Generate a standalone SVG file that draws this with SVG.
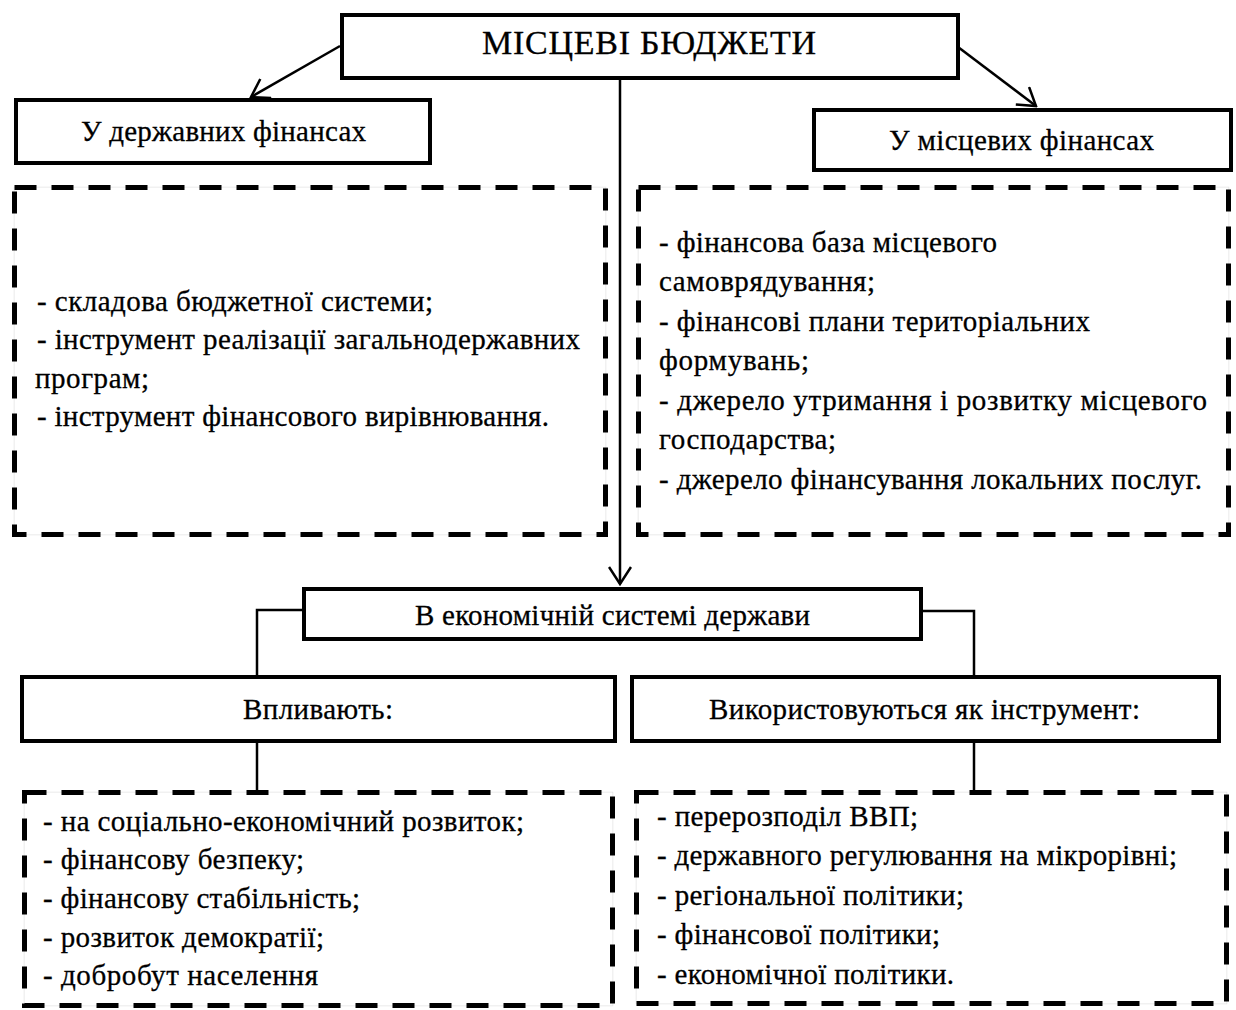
<svg xmlns="http://www.w3.org/2000/svg" width="1236" height="1010" viewBox="0 0 1236 1010">
<style>
.box{fill:#fff;stroke:#000;stroke-width:4}
.dash{fill:#fff;stroke:#000;stroke-width:5;stroke-dasharray:22 15}
.ghost{fill:none;stroke:#e2e2e2;stroke-width:1.5}
.conn{fill:none;stroke:#000;stroke-width:2.5}
text{font-family:"Liberation Serif","Times New Roman",serif;font-size:29px;fill:#000;stroke:#000;stroke-width:0.3}
.title{font-size:34px}
</style>
<defs>
<marker id="arr" markerUnits="userSpaceOnUse" viewBox="0 0 20 24" refX="18" refY="12" markerWidth="20" markerHeight="24" orient="auto">
<path d="M1,1 L18,12 L1,23" fill="none" stroke="#000" stroke-width="2.5"/>
</marker>
</defs>
<rect width="1236" height="1010" fill="#fff"/>

<g id="connectors">
<line class="conn" x1="340" y1="46" x2="251" y2="97" marker-end="url(#arr)"/>
<line class="conn" x1="958" y1="47" x2="1036" y2="106" marker-end="url(#arr)"/>
<line class="conn" x1="620" y1="80" x2="620" y2="584" marker-end="url(#arr)"/>
<polyline class="conn" points="304,610 257,610 257,677"/>
<polyline class="conn" points="921,611 974,611 974,677"/>
<line class="conn" x1="257" y1="741" x2="257" y2="792"/>
<line class="conn" x1="974" y1="741" x2="974" y2="792"/>
</g>

<g id="node-main">
<rect class="box" x="342" y="15" width="616" height="63"/>
<text class="title" x="482" y="54" textLength="334">МІСЦЕВІ БЮДЖЕТИ</text>
</g>

<g id="node-state">
<rect class="box" x="16" y="100" width="414" height="63"/>
<text x="81" y="141" textLength="285">У державних фінансах</text>
</g>

<g id="node-local">
<rect class="box" x="814" y="110" width="417" height="60"/>
<text x="889" y="150" textLength="265">У місцевих фінансах</text>
</g>

<g id="node-state-list">
<rect class="ghost" x="14.5" y="187.5" width="591" height="347"/>
<rect class="dash" x="14.5" y="187.5" width="591" height="347"/>
<text x="37" y="311" textLength="396">- складова бюджетної системи;</text>
<text x="37" y="349" textLength="543">- інструмент реалізації загальнодержавних</text>
<text x="35" y="388" textLength="114">програм;</text>
<text x="37" y="426" textLength="512">- інструмент фінансового вирівнювання.</text>
</g>

<g id="node-local-list">
<rect class="ghost" x="638.5" y="187.5" width="590" height="347"/>
<rect class="dash" x="638.5" y="187.5" width="590" height="347"/>
<text x="659" y="252" textLength="338">- фінансова база місцевого</text>
<text x="659" y="291" textLength="216">самоврядування;</text>
<text x="659" y="331" textLength="431">- фінансові плани територіальних</text>
<text x="659" y="370" textLength="150">формувань;</text>
<text x="659" y="410" textLength="548">- джерело утримання і розвитку місцевого</text>
<text x="659" y="449" textLength="177">господарства;</text>
<text x="659" y="489" textLength="543">- джерело фінансування локальних послуг.</text>
</g>

<g id="node-economy">
<rect class="box" x="304" y="589" width="617" height="50"/>
<text x="415" y="625" textLength="395">В економічній системі держави</text>
</g>

<g id="node-influence">
<rect class="box" x="22" y="677" width="593" height="64"/>
<text x="243" y="719" textLength="150">Впливають:</text>
</g>

<g id="node-instrument">
<rect class="box" x="632" y="677" width="587" height="64"/>
<text x="709" y="719" textLength="431">Використовуються як інструмент:</text>
</g>

<g id="node-influence-list">
<rect class="ghost" x="24.5" y="792.5" width="588" height="213"/>
<rect class="dash" x="24.5" y="792.5" width="588" height="213"/>
<text x="43" y="831" textLength="481">- на соціально-економічний розвиток;</text>
<text x="43" y="869" textLength="261">- фінансову безпеку;</text>
<text x="43" y="908" textLength="317">- фінансову стабільність;</text>
<text x="43" y="947" textLength="281">- розвиток демократії;</text>
<text x="43" y="985" textLength="275">- добробут населення</text>
</g>

<g id="node-instrument-list">
<rect class="ghost" x="636.5" y="792.5" width="590" height="211"/>
<rect class="dash" x="636.5" y="792.5" width="590" height="211"/>
<text x="657" y="826" textLength="261">- перерозподіл ВВП;</text>
<text x="657" y="865" textLength="520">- державного регулювання на мікрорівні;</text>
<text x="657" y="905" textLength="307">- регіональної політики;</text>
<text x="657" y="944" textLength="283">- фінансової політики;</text>
<text x="657" y="984" textLength="297">- економічної політики.</text>
</g>
</svg>
